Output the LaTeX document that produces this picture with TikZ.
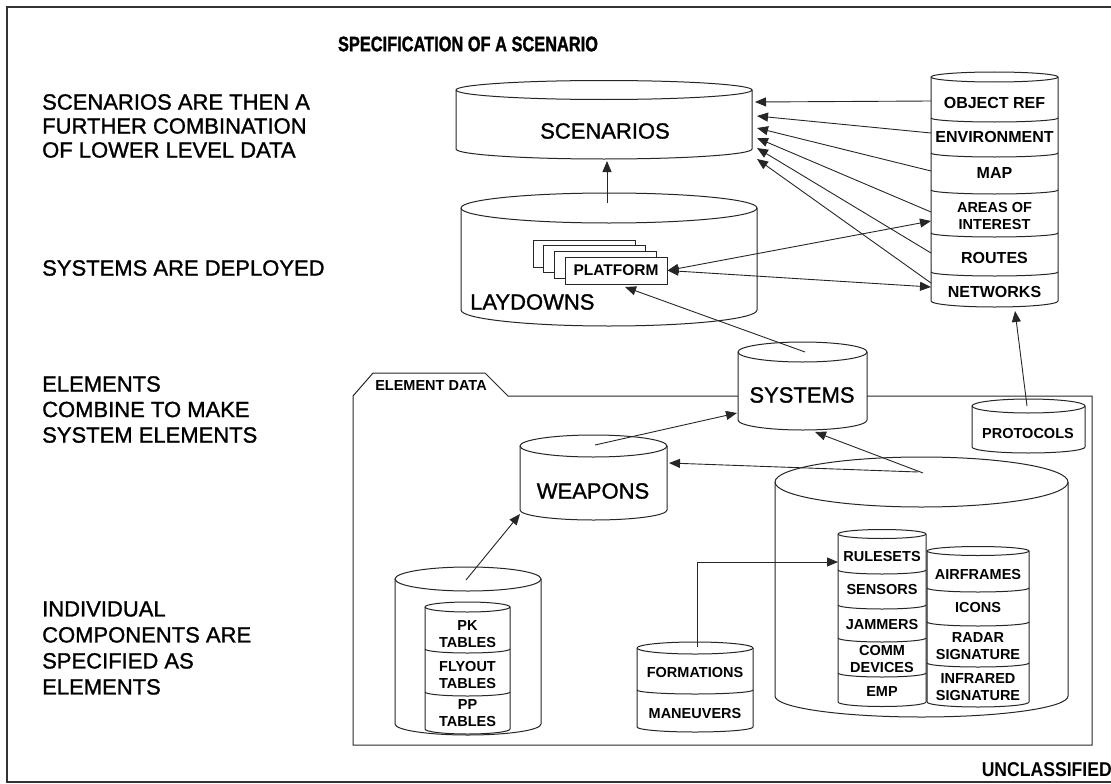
\documentclass[tikz,border=0pt]{standalone}
\usepackage{fontspec}
\setmainfont{Liberation Sans}
\newfontfamily\medfont[FakeBold=1.2]{Liberation Sans}
\newfontfamily\heavyfont[FakeBold=1.5]{Liberation Sans Bold}
\usetikzlibrary{arrows.meta}
\tikzset{
  outl/.style={line width=1pt, draw=black!85},
  drumfill/.style={outl, fill=white},
  conn/.style={line width=0.9pt, draw=black!85, -{Triangle[length=11pt,width=9pt]}},
  dconn/.style={line width=0.9pt, draw=black!85, {Triangle[length=11pt,width=9pt]}-{Triangle[length=11pt,width=9pt]}},
  bigtext/.style={font=\medfont\fontsize{22}{24}\selectfont, inner sep=0pt},
  smalltext/.style={font=\bfseries\fontsize{14.5}{17}\selectfont, inner sep=0pt, align=center},
  stacktext/.style={font=\bfseries\fontsize{16}{17}\selectfont, inner sep=0pt, align=center},
  sidetext/.style={inner sep=0pt, align=left, anchor=west},
}
% xl, xr, ytop, ybot, ry top, ry bottom (y positive downwards in pixels)
\newcommand\drum[6]{%
  \path[drumfill] (#1,-#3) -- (#1,-#4)
    arc[start angle=180,end angle=360,x radius={(#2-#1)/2},y radius=#6]
    -- (#2,-#3)
    arc[start angle=0,end angle=180,x radius={(#2-#1)/2},y radius=#5] -- cycle;
  \draw[outl] (#1,-#3) arc[start angle=180,end angle=360,x radius={(#2-#1)/2},y radius=#5];
}
\newcommand\divl[3]{%
  \draw[outl] (#1,-#3) arc[start angle=180,end angle=360,x radius={(#2-#1)/2},y radius=4];
}
\begin{document}
\begin{tikzpicture}[x=1pt,y=1pt]
\useasboundingbox (0,0) rectangle (1111,-784);
% page frame
\draw[line width=1.6pt, black!80] (1113,-7) -- (7,-7) -- (7,-782) -- (1113,-782);

% title and side texts
\node[font=\heavyfont\fontsize{21}{24}\selectfont, inner sep=0pt] (title) at (468,-44) {\scalebox{0.78}[1]{SPECIFICATION OF A SCENARIO}};
\node[sidetext, font=\medfont\fontsize{22}{24}\selectfont] (side1) at (42,-126) {SCENARIOS ARE THEN A\\FURTHER COMBINATION\\OF LOWER LEVEL DATA};
\node[sidetext, font=\medfont\fontsize{22}{24}\selectfont] (side2) at (42,-268) {SYSTEMS ARE DEPLOYED};
\node[sidetext, font=\medfont\fontsize{22}{25.5}\selectfont] (side3) at (42,-409.5) {ELEMENTS\\COMBINE TO MAKE\\SYSTEM ELEMENTS};
\node[sidetext, font=\medfont\fontsize{22}{26}\selectfont] (side4) at (42,-648) {INDIVIDUAL\\COMPONENTS ARE\\SPECIFIED AS\\ELEMENTS};
\node[font=\bfseries\fontsize{20}{22}\selectfont, inner sep=0pt, anchor=east] (uncl) at (1112,-770) {\scalebox{0.88}[1]{UNCLASSIFIED}};

% element data folder
\draw[outl] (353,-396) -- (373,-373) -- (485,-373) -- (508,-396) -- (1092,-396) -- (1092,-745) -- (353,-745) -- cycle;
\node[smalltext] (eldata) at (431,-386) {ELEMENT DATA};

% scenarios
\drum{456}{752}{90}{149}{9.5}{10}
\node[bigtext] (scen) at (605,-131) {SCENARIOS};

% laydowns
\drum{461}{757}{208}{310}{15}{16}
\node[bigtext, anchor=west] (lay) at (470,-302) {LAYDOWNS};
\draw[outl, fill=white] (533,-240) rectangle (635,-267);
\draw[outl, fill=white] (543.7,-245.7) rectangle (645.7,-272.7);
\draw[outl, fill=white] (554.3,-251.3) rectangle (656.3,-278.3);
\node[draw=black!85, line width=1pt, fill=white, font=\bfseries\fontsize{15.5}{17}\selectfont, inner sep=0pt, minimum width=102pt, minimum height=27pt] (plat) at (616,-270.5) {PLATFORM};

% right stack
\drum{931}{1058}{77}{301}{5}{6}
\divl{931}{1058}{118}
\divl{931}{1058}{153}
\divl{931}{1058}{190}
\divl{931}{1058}{233}
\divl{931}{1058}{272}
\node[stacktext] (objref) at (994.5,-103) {OBJECT REF};
\node[stacktext] (env) at (994.5,-137) {ENVIRONMENT};
\node[stacktext] (map) at (994.5,-173) {MAP};
\node[smalltext] (aoi) at (994.5,-216.5) {AREAS OF\\INTEREST};
\node[stacktext] (routes) at (994.5,-258) {ROUTES};
\node[stacktext] (nets) at (994.5,-292) {NETWORKS};

% systems
\drum{738}{867}{352}{420}{10}{10}
\node[bigtext] (sys) at (802,-395) {SYSTEMS};

% protocols
\drum{972}{1085}{406}{447}{7}{6}
\node[smalltext] (proto) at (1028,-434) {PROTOCOLS};

% weapons
\drum{520}{667}{446}{510}{11}{10}
\node[bigtext] (weap) at (593,-491) {WEAPONS};

% big element cylinder
\drum{775}{1068}{482}{696}{25}{21}
\drum{838}{926}{534}{702}{4.5}{4.5}
\divl{838}{926}{570}
\divl{838}{926}{605}
\divl{838}{926}{638}
\divl{838}{926}{673}
\node[smalltext] (rules) at (882,-557) {RULESETS};
\node[smalltext] (sens) at (882,-590) {SENSORS};
\node[smalltext] (jam) at (882,-625) {JAMMERS};
\node[smalltext] (comm) at (882,-659.5) {COMM\\DEVICES};
\node[smalltext] (emp) at (882,-692) {EMP};
\drum{927}{1029}{551}{702}{4.5}{5}
\divl{927}{1029}{588}
\divl{927}{1029}{622}
\divl{927}{1029}{663}
\node[smalltext] (air) at (978,-575) {AIRFRAMES};
\node[smalltext] (icons) at (978,-608) {ICONS};
\node[smalltext] (radar) at (978,-646) {RADAR\\SIGNATURE};
\node[smalltext] (ir) at (978,-687) {INFRARED\\SIGNATURE};

% formations / maneuvers
\drum{637}{753}{648}{727}{6}{5}
\divl{637}{753}{690}
\node[smalltext] (form) at (695,-673) {FORMATIONS};
\node[smalltext] (man) at (695,-714) {MANEUVERS};

% pk tables
\drum{395}{541}{579}{724}{12}{11}
\drum{425}{510}{607}{729}{5}{5}
\divl{425}{510}{649}
\divl{425}{510}{692}
\node[smalltext] (pk) at (467.5,-634) {PK\\TABLES};
\node[smalltext] (fly) at (467.5,-675) {FLYOUT\\TABLES};
\node[smalltext] (pp) at (467.5,-713) {PP\\TABLES};

% connector end points
\coordinate (layTop) at (607,-203);
\coordinate (scenBot) at (607,-161);
\coordinate (s1) at (755,-102);
\coordinate (s2) at (757,-116);
\coordinate (s3) at (757,-128);
\coordinate (s4) at (757,-138);
\coordinate (s5) at (757,-148);
\coordinate (s6) at (757,-159);
\coordinate (r1) at (931,-101);
\coordinate (r2) at (931,-133);
\coordinate (r3) at (931,-171);
\coordinate (r4) at (931,-212);
\coordinate (r5) at (931,-253);
\coordinate (r6) at (931,-283);
\coordinate (aoiL) at (931,-221);
\coordinate (netL) at (931,-287);
\coordinate (sysTop) at (805,-352);
\coordinate (platBot) at (625,-287);
\coordinate (weTop) at (595,-445);
\coordinate (sysLeft) at (737,-413);
\coordinate (bigA) at (918,-472);
\coordinate (weRight) at (669,-463);
\coordinate (bigB) at (923,-473);
\coordinate (sysBot) at (815,-432);
\coordinate (proTop) at (1027,-406);
\coordinate (stackBot) at (1015,-311);
\coordinate (pkTop) at (466,-580);
\coordinate (weBot) at (520,-514);
\coordinate (formTop) at (697,-647);
\coordinate (ruleL) at (838,-562);

% connectors
\draw[conn] (layTop) -- (scenBot);
\draw[conn] (r1) -- (s1);
\draw[conn] (r2) -- (s2);
\draw[conn] (r3) -- (s3);
\draw[conn] (r4) -- (s4);
\draw[conn] (r5) -- (s5);
\draw[conn] (r6) -- (s6);
\draw[dconn] (plat.east) -- (aoiL);
\draw[dconn] (plat.east) -- (netL);
\draw[conn] (sysTop) -- (platBot);
\draw[conn] (weTop) -- (sysLeft);
\draw[conn] (bigA) -- (weRight);
\draw[conn] (bigB) -- (sysBot);
\draw[conn] (proTop) -- (stackBot);
\draw[conn] (pkTop) -- (weBot);
\draw[conn] (formTop) |- (ruleL);
\end{tikzpicture}
\end{document}
